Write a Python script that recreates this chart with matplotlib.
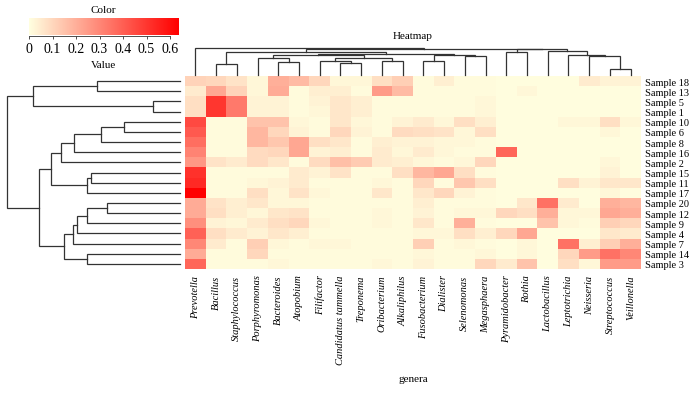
import numpy as np
import matplotlib
matplotlib.use("Agg")
import matplotlib.pyplot as plt
from matplotlib.colors import LinearSegmentedColormap

# ---------------- data ----------------
samples = ["Sample 18", "Sample 13", "Sample 5", "Sample 1", "Sample 10", "Sample 6",
           "Sample 8", "Sample 16", "Sample 2", "Sample 15", "Sample 11", "Sample 17",
           "Sample 20", "Sample 12", "Sample 9", "Sample 4", "Sample 7", "Sample 14",
           "Sample 3"]

genera = ["Prevotella", "Bacillus", "Staphylococcus", "Porphyromonas", "Bacteroides",
          "Atopobium", "Filifactor", "Candidatus tammella", "Treponema", "Oribacterium",
          "Alkaliphilus", "Fusobacterium", "Dialister", "Selenomonas", "Megasphaera",
          "Pyramidobacter", "Rothia", "Lactobacillus", "Leptotrichia", "Neisseria",
          "Streptococcus", "Veillonella"]

# values per genus, in sample (row) order above
prevotella     = [0.11, 0.05, 0.08, 0.08, 0.45, 0.41, 0.36, 0.31, 0.26, 0.51, 0.53, 0.635, 0.21, 0.21, 0.28, 0.39, 0.30, 0.21, 0.38]
bacillus       = [0.10, 0.22, 0.50, 0.50, 0.01, 0.01, 0.01, 0.01, 0.07, 0.01, 0.01, 0.01, 0.07, 0.08, 0.03, 0.08, 0.05, 0.01, 0.01]
staphylococcus = [0.07, 0.11, 0.33, 0.33, 0.01, 0.01, 0.01, 0.01, 0.05, 0.01, 0.01, 0.01, 0.04, 0.04, 0.02, 0.05, 0.01, 0.01, 0.01]
porphyromonas  = [0.02, 0.02, 0.03, 0.03, 0.15, 0.18, 0.18, 0.09, 0.09, 0.01, 0.02, 0.08, 0.06, 0.02, 0.05, 0.03, 0.12, 0.10, 0.01]
bacteroides    = [0.20, 0.21, 0.03, 0.03, 0.15, 0.10, 0.14, 0.10, 0.06, 0.01, 0.03, 0.02, 0.02, 0.06, 0.08, 0.06, 0.02, 0.01, 0.02]
atopobium      = [0.17, 0.01, 0.01, 0.01, 0.02, 0.03, 0.22, 0.22, 0.01, 0.05, 0.05, 0.07, 0.02, 0.07, 0.10, 0.04, 0.01, 0.01, 0.01]
filifactor     = [0.10, 0.04, 0.03, 0.02, 0.01, 0.01, 0.08, 0.03, 0.09, 0.03, 0.01, 0.02, 0.01, 0.01, 0.02, 0.01, 0.02, 0.01, 0.01]
cand_tammella  = [0.02, 0.04, 0.06, 0.06, 0.06, 0.10, 0.06, 0.04, 0.16, 0.07, 0.01, 0.01, 0.01, 0.01, 0.01, 0.01, 0.02, 0.01, 0.01]
treponema      = [0.02, 0.01, 0.04, 0.04, 0.02, 0.03, 0.01, 0.01, 0.13, 0.01, 0.01, 0.01, 0.01, 0.01, 0.01, 0.01, 0.01, 0.01, 0.01]
oribacterium   = [0.08, 0.25, 0.01, 0.01, 0.01, 0.01, 0.04, 0.05, 0.05, 0.01, 0.02, 0.06, 0.01, 0.02, 0.02, 0.01, 0.01, 0.01, 0.02]
alkaliphilus   = [0.12, 0.17, 0.01, 0.01, 0.03, 0.09, 0.03, 0.02, 0.04, 0.08, 0.01, 0.01, 0.01, 0.01, 0.01, 0.01, 0.01, 0.01, 0.01]
fusobacterium  = [0.01, 0.01, 0.01, 0.01, 0.05, 0.08, 0.03, 0.05, 0.02, 0.18, 0.10, 0.06, 0.04, 0.03, 0.06, 0.02, 0.12, 0.02, 0.03]
dialister      = [0.04, 0.01, 0.01, 0.01, 0.02, 0.07, 0.02, 0.02, 0.01, 0.22, 0.01, 0.10, 0.01, 0.01, 0.01, 0.02, 0.01, 0.01, 0.01]
selenomonas    = [0.01, 0.01, 0.01, 0.01, 0.08, 0.02, 0.02, 0.01, 0.02, 0.08, 0.14, 0.03, 0.01, 0.02, 0.20, 0.08, 0.02, 0.01, 0.01]
megasphaera    = [0.01, 0.01, 0.02, 0.02, 0.04, 0.08, 0.01, 0.01, 0.10, 0.01, 0.08, 0.01, 0.01, 0.02, 0.01, 0.04, 0.01, 0.02, 0.10]
pyramidobacter = [0.005, 0.005, 0.005, 0.005, 0.005, 0.005, 0.005, 0.38, 0.005, 0.005, 0.005, 0.005, 0.005, 0.10, 0.005, 0.10, 0.005, 0.005, 0.05]
rothia         = [0.005, 0.02, 0.005, 0.005, 0.005, 0.005, 0.005, 0.005, 0.005, 0.005, 0.005, 0.005, 0.06, 0.08, 0.005, 0.22, 0.02, 0.02, 0.15]
lactobacillus  = [0.005, 0.005, 0.005, 0.005, 0.005, 0.005, 0.005, 0.005, 0.005, 0.005, 0.005, 0.005, 0.35, 0.20, 0.15, 0.005, 0.005, 0.005, 0.005]
leptotrichia   = [0.005, 0.005, 0.005, 0.005, 0.02, 0.005, 0.005, 0.005, 0.005, 0.005, 0.08, 0.005, 0.05, 0.02, 0.02, 0.005, 0.35, 0.10, 0.08]
neisseria      = [0.05, 0.005, 0.005, 0.005, 0.02, 0.005, 0.005, 0.005, 0.005, 0.005, 0.03, 0.005, 0.005, 0.02, 0.01, 0.005, 0.04, 0.25, 0.02]
streptococcus  = [0.03, 0.005, 0.005, 0.005, 0.08, 0.02, 0.005, 0.005, 0.02, 0.03, 0.06, 0.02, 0.20, 0.22, 0.12, 0.06, 0.12, 0.35, 0.25]
veillonella    = [0.03, 0.005, 0.005, 0.005, 0.02, 0.005, 0.005, 0.005, 0.005, 0.005, 0.06, 0.005, 0.18, 0.20, 0.10, 0.05, 0.20, 0.30, 0.25]

# dendrogram merges: (child a, child b, height); leaves numbered in display order
row_links = [(0, 1, 0.481), (2, 3, 0.158), (19, 20, 0.852), (4, 5, 0.321), (22, 6, 0.454),
             (23, 7, 0.612), (24, 8, 0.688), (9, 10, 0.515), (26, 11, 0.540), (25, 27, 0.746),
             (12, 13, 0.423), (29, 14, 0.540), (30, 15, 0.598), (31, 16, 0.621), (17, 18, 0.535),
             (32, 33, 0.673), (28, 34, 0.813), (21, 35, 1.0)]

col_links = [(1, 2, 0.408), (4, 5, 0.487), (3, 23, 0.639), (7, 8, 0.433), (6, 25, 0.531),
             (9, 10, 0.531), (26, 27, 0.650), (24, 28, 0.733), (11, 12, 0.531), (13, 14, 0.704),
             (30, 31, 0.747), (29, 32, 0.769), (22, 33, 0.866), (15, 16, 0.856), (20, 21, 0.235),
             (19, 36, 0.711), (18, 37, 0.733), (17, 38, 0.910), (35, 39, 0.964), (34, 40, 0.975),
             (0, 41, 1.0)]

cbar_ticks = [0, 0.1, 0.2, 0.3, 0.4, 0.5, 0.6]
cbar_labels = ["0", "0.1", "0.2", "0.3", "0.4", "0.5", "0.6"]
vmax = 0.635

# ---------------- figure ----------------
plt.rcParams["font.family"] = ["Liberation Serif", "DejaVu Serif"]
W, H = 697, 402
fig = plt.figure(figsize=(W / 100, H / 100), dpi=100)


def px_axes(x0, y0, x1, y1):
    return fig.add_axes([x0 / W, 1 - y1 / H, (x1 - x0) / W, (y1 - y0) / H])


values = np.column_stack([prevotella, bacillus, staphylococcus, porphyromonas, bacteroides,
                          atopobium, filifactor, cand_tammella, treponema, oribacterium,
                          alkaliphilus, fusobacterium, dialister, selenomonas, megasphaera,
                          pyramidobacter, rothia, lactobacillus, leptotrichia, neisseria,
                          streptococcus, veillonella])

cmap = LinearSegmentedColormap.from_list("ly_red", ["#FFFFE0", "#FF0000"])

# heatmap
ax_hm = px_axes(185, 77, 641, 270)
ax_hm.imshow(values, cmap=cmap, vmin=0, vmax=vmax, aspect="auto", interpolation="nearest")
ax_hm.set_xticks(range(len(genera)))
ax_hm.set_xticklabels(genera, rotation=90, style="italic", fontsize=7.5)
ax_hm.yaxis.tick_right()
ax_hm.set_yticks(range(len(samples)))
ax_hm.set_yticklabels(samples, fontsize=7.5)
ax_hm.tick_params(axis="x", length=0, pad=4)
ax_hm.tick_params(axis="y", length=0, pad=3)
for s in ax_hm.spines.values():
    s.set_visible(False)

LINE_C = "#333333"


def draw_dendro(ax, links, n, orient):
    pos = {i: float(i) for i in range(n)}
    hgt = {i: 0.0 for i in range(n)}
    for k, (a, b, h) in enumerate(links):
        pa, pb = pos[a], pos[b]
        ha, hb = hgt[a], hgt[b]
        if orient == "top":
            ax.plot([pa, pa, pb, pb], [ha, h, h, hb], color=LINE_C, lw=0.9,
                    solid_joinstyle="miter", clip_on=False)
        else:
            ax.plot([ha, h, h, hb], [pa, pa, pb, pb], color=LINE_C, lw=0.9,
                    solid_joinstyle="miter", clip_on=False)
        pos[n + k] = (pa + pb) / 2
        hgt[n + k] = h
    ax.axis("off")


# column dendrogram
ax_cd = px_axes(185, 49.3, 641, 76)
draw_dendro(ax_cd, col_links, len(genera), "top")
ax_cd.set_xlim(-0.5, len(genera) - 0.5)
ax_cd.set_ylim(0, 1)

# row dendrogram
ax_rd = px_axes(7, 77, 180, 270)
draw_dendro(ax_rd, row_links, len(samples), "left")
ax_rd.set_xlim(1, 0)
ax_rd.set_ylim(len(samples) - 0.5, -0.5)

# colour key
ax_cb = px_axes(29, 19, 178.3, 36)
grad = np.linspace(0, vmax, 300)[None, :]
ax_cb.imshow(grad, cmap=cmap, vmin=0, vmax=vmax, aspect="auto",
             extent=[0, vmax, 0, 1], interpolation="bilinear")
ax_cb.set_xlim(0, vmax)
ax_cb.set_ylim(0, 1)
ax_cb.set_yticks([])
ax_cb.set_xticks(cbar_ticks)
ax_cb.set_xticklabels(cbar_labels, fontsize=7.3)
ax_cb.tick_params(axis="x", length=2.5, width=0.6, pad=2, color="#333333")
for side in ["top", "left", "right"]:
    ax_cb.spines[side].set_visible(False)
ax_cb.spines["bottom"].set_bounds(0, 0.6)
ax_cb.spines["bottom"].set_linewidth(0.6)
ax_cb.spines["bottom"].set_color("#333333")
ax_cb.spines["bottom"].set_position(("outward", 0.6))

fig.text(103.5 / W, 1 - 10.5 / H, "Color", ha="center", va="center", fontsize=8)
fig.text(103.5 / W, 1 - 65.5 / H, "Value", ha="center", va="center", fontsize=8)
fig.text(413 / W, 1 - 36.5 / H, "Heatmap", ha="center", va="center", fontsize=8)
fig.text(413 / W, 1 - 380 / H, "genera", ha="center", va="center", fontsize=8)

fig.savefig("out.png", dpi=100)
